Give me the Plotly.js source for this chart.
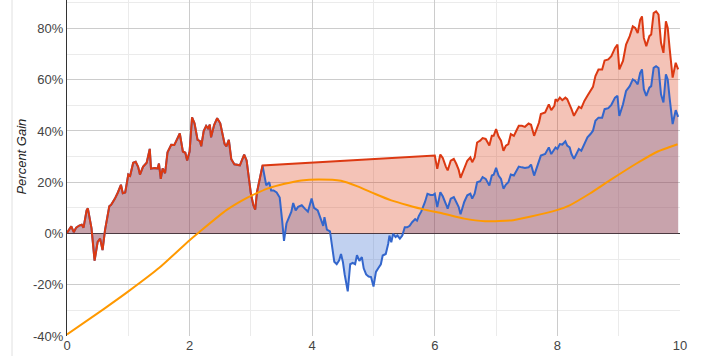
<!DOCTYPE html>
<html>
<head>
<meta charset="utf-8">
<script src="https://cdn.plot.ly/plotly-3.0.1.min.js"></script>
<style>
  html, body { margin: 0; padding: 0; background: #ffffff; }
  #chart { width: 707px; height: 356px; }
</style>
</head>
<body>
<div id="chart"></div>
<script>
// Segment where both series coincide (x 0 .. 3.19)
const earlyX = [0, 0.07, 0.11, 0.15, 0.2, 0.24, 0.27, 0.32, 0.34, 0.38, 0.4, 0.45, 0.5, 0.54, 0.58, 0.62, 0.69, 0.72, 0.78, 0.83, 0.88, 0.91, 0.95, 1.0, 1.03, 1.08, 1.12, 1.16, 1.19, 1.24, 1.3, 1.35, 1.37, 1.43, 1.48, 1.5, 1.53, 1.56, 1.6, 1.64, 1.7, 1.75, 1.8, 1.84, 1.89, 1.93, 1.96, 2.0, 2.04, 2.08, 2.13, 2.17, 2.19, 2.23, 2.27, 2.3, 2.33, 2.35, 2.4, 2.45, 2.5, 2.54, 2.57, 2.6, 2.64, 2.68, 2.73, 2.82, 2.89, 2.93, 2.96, 3.0, 3.04, 3.07, 3.1, 3.14, 3.19];
const earlyY = [0.2, 2.8, 0.5, 2.3, 3.1, 3.4, 2.3, 9, 9.8, 3.3, 2, -10.6, -3.3, -2, -6.5, 1.3, 10.6, 11.2, 13.5, 16, 19, 15.7, 16, 23, 22.5, 27.6, 28, 26, 23, 26, 27.6, 33, 25.3, 25.5, 25.4, 27.3, 21.3, 25.4, 23.5, 31.7, 34.6, 34.5, 37.4, 39, 32, 31.5, 28.5, 32, 45.3, 43, 36.5, 36, 34, 40, 42, 41, 42.5, 37.5, 42.3, 45, 43, 37.5, 35, 34, 36.5, 29, 27, 26.6, 30.8, 28.5, 22, 15.5, 11, 9.3, 16.2, 20.5, 26.5];

// Blue-only middle segment (x 3.25 .. 5.97)
const blueMidX = [3.25, 3.3, 3.33, 3.37, 3.42, 3.47, 3.51, 3.54, 3.58, 3.63, 3.66, 3.69, 3.73, 3.77, 3.83, 3.88, 3.93, 3.99, 4.03, 4.09, 4.14, 4.18, 4.2, 4.24, 4.29, 4.32, 4.36, 4.4, 4.44, 4.47, 4.5, 4.53, 4.58, 4.62, 4.66, 4.7, 4.73, 4.77, 4.81, 4.84, 4.88, 4.92, 4.96, 5.0, 5.04, 5.08, 5.12, 5.15, 5.2, 5.24, 5.26, 5.29, 5.32, 5.36, 5.39, 5.43, 5.47, 5.51, 5.55, 5.59, 5.63, 5.68, 5.71, 5.74, 5.78, 5.84, 5.88, 5.93, 5.97];
const blueMidY = [18.8, 20, 16.8, 16.8, 16, 14, 5, -2.9, 3.9, 6.5, 8.5, 11.9, 9, 10.4, 11, 9.7, 8.5, 13.6, 10, 9, 5.3, 3, 6.4, 1.5, 0.8, -5.2, -11, -12, -10.5, -8, -11, -16, -22.6, -12, -11.5, -12, -8.5, -10.7, -9.2, -13.6, -16, -16.8, -17, -20.7, -15, -13.5, -12, -8.6, -8, -4, -0.8, -3.4, -0.1, -1.4, -0.8, -2, -0.8, 2.4, 2.4, 3, 4.4, 5.6, 5, 6.9, 8.6, 12.3, 15.5, 15, 15];

// Late segment (x 6.0 .. 9.97), both series
const lateX = [6.0, 6.04, 6.09, 6.13, 6.18, 6.21, 6.26, 6.31, 6.35, 6.39, 6.42, 6.48, 6.53, 6.58, 6.61, 6.65, 6.69, 6.74, 6.78, 6.83, 6.89, 6.93, 6.96, 7.0, 7.04, 7.08, 7.12, 7.16, 7.2, 7.24, 7.29, 7.33, 7.37, 7.42, 7.47, 7.53, 7.57, 7.62, 7.66, 7.7, 7.73, 7.8, 7.86, 7.9, 7.95, 7.97, 8.0, 8.04, 8.08, 8.13, 8.16, 8.2, 8.23, 8.27, 8.31, 8.35, 8.39, 8.44, 8.49, 8.54, 8.58, 8.62, 8.67, 8.73, 8.77, 8.83, 8.88, 8.94, 8.98, 9.01, 9.07, 9.12, 9.18, 9.23, 9.27, 9.31, 9.35, 9.38, 9.41, 9.45, 9.5, 9.53, 9.57, 9.61, 9.65, 9.69, 9.73, 9.77, 9.8, 9.83, 9.88, 9.93, 9.97];
const blueLateY = [15.5, 10.3, 16.1, 14.5, 11.6, 9.7, 13.6, 14.2, 12.3, 10.3, 7.5, 12.3, 14.9, 15.5, 13.6, 15.5, 20, 20.4, 22, 21.3, 18.7, 22.6, 22.9, 25.6, 22.6, 21.3, 17.5, 19.1, 20, 23, 22.6, 24.6, 26.1, 25.8, 25.6, 25.8, 26.9, 22.6, 25.2, 27.8, 30.4, 31, 33.6, 31, 33, 33.6, 33, 34.9, 34.7, 36, 34.3, 33.6, 31, 29.1, 31, 33, 32.3, 34.9, 37.5, 38.8, 40.1, 44, 45.2, 45.2, 48.5, 48.9, 50.2, 53, 53.7, 45.9, 50.4, 55.6, 57.5, 60.1, 59.5, 58.2, 62.7, 64, 56.3, 53.7, 56.9, 57.5, 64.6, 65.3, 64.6, 54.3, 51.1, 62.1, 60.1, 53, 42.7, 48.1, 45.5];
const redLateY = [30.4, 25.2, 30.8, 29.5, 26.1, 24.6, 28.4, 29.1, 27.2, 24.8, 21.7, 25.8, 28.4, 29.7, 27.8, 29.7, 35.5, 36.2, 37.2, 36.9, 34.3, 38.1, 38.1, 40.7, 37.8, 36.2, 32.3, 34.3, 34.9, 38.8, 38.1, 40.1, 42, 42, 41.6, 42.9, 42.4, 38.1, 40.7, 43.3, 46.6, 47.2, 50.4, 48.1, 49.8, 52.4, 51.7, 53, 52, 53, 52.4, 50.4, 48.5, 45.9, 47.8, 49.4, 48.9, 51.7, 53.7, 55.6, 57.2, 61.4, 64, 64, 67.5, 67.9, 69.2, 72.4, 73.7, 64, 67.3, 73.7, 77, 80.8, 80.2, 78.2, 83.4, 84.7, 76.3, 73.1, 77, 77.6, 86, 86.7, 85.4, 74.4, 70.5, 82.8, 80.2, 72.4, 60.8, 66.6, 64];

// Orange smooth series
const orangeX = [0, 0.61, 0.99, 1.51, 2.0, 2.16, 2.6, 2.92, 3.14, 3.28, 3.55, 3.82, 4.1, 4.47, 4.74, 5.02, 5.29, 5.56, 5.83, 6.1, 6.48, 6.82, 7.28, 7.55, 7.99, 8.2, 8.53, 8.86, 9.29, 9.62, 9.96];
const orangeY = [-39.4, -29.3, -22.8, -13.3, -2.6, 0.6, 9.1, 13.7, 16.2, 17.6, 19.4, 20.7, 21.1, 20.6, 18.4, 15.5, 12.9, 11, 9.3, 8.0, 5.8, 4.8, 5.2, 6.5, 9.1, 11, 15.6, 20.8, 27.3, 31.8, 34.8];

const yTicks = [-40, -20, 0, 20, 40, 60, 80];
const xTicks = [0, 2, 4, 6, 8, 10];
const yTitle = 'Percent Gain';

const blueX = earlyX.concat(blueMidX, lateX);
const blueY = earlyY.concat(blueMidY, blueLateY);
const redX = earlyX.concat(lateX);
const redY = earlyY.concat(redLateY);

const BLUE = '#3366cc', RED = '#dc3912', ORANGE = '#ff9900';

const traces = [
  {x: blueX, y: blueY, mode: 'none', fill: 'tozeroy', fillcolor: 'rgba(51,102,204,0.3)', hoverinfo: 'skip'},
  {x: redX, y: redY, mode: 'none', fill: 'tozeroy', fillcolor: 'rgba(220,57,18,0.3)', hoverinfo: 'skip'},
  {x: blueX, y: blueY, mode: 'lines', line: {color: BLUE, width: 2}},
  {x: redX, y: redY, mode: 'lines', line: {color: RED, width: 2}},
  {x: orangeX, y: orangeY, mode: 'lines', line: {color: ORANGE, width: 2, shape: 'spline', smoothing: 0.5}}
];

const layout = {
  width: 707, height: 356,
  margin: {l: 67, r: 27, t: 0, b: 20, pad: 0},
  paper_bgcolor: '#ffffff', plot_bgcolor: '#ffffff',
  showlegend: false,
  hovermode: false,
  font: {family: 'Arial, "Liberation Sans", sans-serif', size: 13, color: '#444'},
  xaxis: {
    range: [0, 10], tickvals: xTicks, ticktext: xTicks.map(String),
    showgrid: true, gridcolor: '#cccccc', gridwidth: 1,
    minor: {dtick: 1, tick0: 0, showgrid: true, gridcolor: '#ebebeb', gridwidth: 1},
    zeroline: false, showline: false, ticks: '',
    tickfont: {size: 13, color: '#444'}
  },
  yaxis: {
    range: [-40, 91.1], tickvals: yTicks, ticktext: yTicks.map(v => v + '%'),
    showgrid: true, gridcolor: '#cccccc', gridwidth: 1,
    minor: {dtick: 10, tick0: 0, showgrid: true, gridcolor: '#ebebeb', gridwidth: 1},
    zeroline: true, zerolinecolor: '#333333', zerolinewidth: 1,
    showline: true, linecolor: '#333333', linewidth: 1,
    ticks: '', tickfont: {size: 13, color: '#444'}
  },
  shapes: [
    {type: 'line', xref: 'paper', yref: 'paper', x0: -0.0897, x1: -0.0897, y0: -0.06, y1: 1,
     line: {color: '#e0e0e0', width: 1}}
  ],
  annotations: [
    {text: yTitle, xref: 'paper', yref: 'paper', x: -0.0734, y: 0.534, textangle: -90,
     showarrow: false, xanchor: 'center', yanchor: 'middle',
     font: {family: 'Arial, "Liberation Sans", sans-serif', size: 13, color: '#222', style: 'italic'}}
  ]
};

Plotly.newPlot('chart', traces, layout, {staticPlot: true, displayModeBar: false});
</script>
</body>
</html>
